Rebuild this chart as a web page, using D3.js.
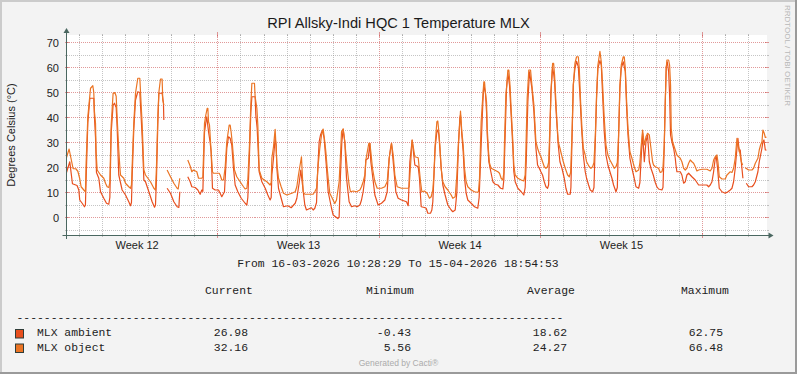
<!DOCTYPE html>
<html>
<head>
<meta charset="UTF-8">
<title>RPI Allsky-Indi HQC 1 Temperature MLX</title>
<script src="https://d3js.org/d3.v7.min.js"></script>
<style>
  body { margin: 0; padding: 0; background: #fff; }
  svg { display: block; }
  .sans { font-family: 'Liberation Sans', Arial, sans-serif; }
  .mono { font-family: 'Liberation Mono', 'Courier New', monospace; font-size: 11.4px; fill: #222; }
</style>
</head>
<body>
<svg width="797" height="374"></svg>
<script>
const startTime = Date.UTC(2026, 2, 16, 10, 28, 29);
const endTime = Date.UTC(2026, 3, 15, 18, 54, 53);

// [hours since start, degrees C]; null marks a gap in the data
const mlxAmbient = [
  [0,18],[3.4,22.3],[6.2,13.5],[11,12.8],[12.8,11],[13.8,7],[16.3,5.7],[18.7,4.3],[19.7,5],
  [20.4,15],[22.2,38],[24.3,47.7],[28.4,47.7],[29.1,40],[30.2,32],[31.2,18],[33.6,15.7],[35.4,10.3],[37.1,9],[38.8,7.7],[41.6,5.7],[44,5.3],
  [45.1,8],[46.5,34],[48.5,45],[49.9,45.7],[51.7,44],[52.7,36],[54.4,17],[57.9,11],[61.4,9],[64.8,6.3],[66.6,4.7],[67.6,6],
  [68.3,16],[70,35],[71.8,47],[74.2,50.3],[76.3,50],[77.7,40],[79,30],[80.5,15],[82.2,14.3],[85.7,10.3],[89.1,6.3],[91.6,4.1],[92.6,5],
  [93.6,15],[95,37],[96.1,49.7],[99.5,49.7],[100.9,45.7],[101.3,39],[102,null],
  [104.7,11.7],[108.2,9.7],[111.7,6.3],[115.1,4.3],[116.9,4],[117.9,10.3],[120,null],
  [126.2,16.3],[128.7,14.3],[130.4,12.3],[133.9,12],[136.7,11],[139.1,9.3],[140.8,11],[141.9,10.5],[143.6,34],[145,38],[146,40.3],[147.8,34.3],[149.5,30],[150.5,26.3],[151.9,11.7],[154.7,11],[158.2,11],[159.9,9.7],[161.6,8.3],[164.4,10.3],
  [166.8,27.7],[168.6,32.3],[170.3,31.7],[172,29],[173.8,19.7],[175.5,13],[178.3,10.3],[181.8,7.7],[185.9,5.7],[187.7,5],[188.7,8],[190.4,25],[191.8,42],[192.9,48.3],[196.3,48.3],[197,41],[198.4,35.7],[200.5,18.3],[203.3,14.3],[206.8,11.7],[209.5,9],[211.9,7],[213,8],
  [213.7,17],[215.4,23.7],[217.1,31.7],[218.2,29],[218.9,19.7],[220.6,11.7],[223.4,7.7],[225.8,4.3],[230.3,4.7],[233.8,3.9],[238,5.7],[239.7,7.7],[242.1,13.7],[243.8,19],[245.6,13],[248,5],[249.7,3],[254.9,3.9],[256.7,3],[258.4,3.7],
  [260.2,6],[261.2,17],[262.9,30.3],[264.3,33],[266.4,35],[268.1,31.7],[270.6,19.7],[272.3,10.3],[275.8,3.7],[277.5,1],[281,0],[282.4,-0.43],[283.7,0.3],[285.1,17],[286.5,30],[287.9,35.4],[289.6,30.3],[291.4,15.7],[294.1,6.3],[296.6,4.3],[300,4.7],[302.5,4.3],[305.3,5],[307,7],[308.7,10.3],
  [310.5,15.7],[311.5,23],[314,23.7],[315.7,29.7],[316.7,22.3],[318.4,17],[320.9,9],[324.3,5],[327.8,5.7],[331.3,7],[333.7,10.3],[335.8,23.7],[337.2,27.7],[338.2,29.7],[340.6,19.7],[342.7,10.3],[345.1,7.7],[348.6,7],[353.8,6.3],[355.6,4.7],
  [357.3,22.3],[359.7,31],[362.5,21],[366,20.3],[367.3,15.7],[369.1,4.3],[372.5,4],[374.3,3.7],[376,1.7],[378.8,1.7],[380.2,3],[381.2,6.3],[382.3,15.7],[383.6,27.7],[385.4,34.3],[386.4,35],[387.5,33],[388.5,27.7],[389.9,19.7],[391.6,13],[394,9],[396.8,5],[400.3,3],[402,2.3],[404.5,3],
  [406.2,10],[407.9,29],[409.3,39.7],[410,41],[411.4,33],[412.8,26.3],[414.2,15.7],[415.9,9.7],[417.6,7],[421.1,5.7],[424.6,4.3],[428,3.7],[429.4,8],[431.5,29],[433.3,46.3],[434.3,53],[436,49.7],[437.1,42.3],[437.8,33],[439.5,22.3],[441.2,19],[443.7,14.3],[446.1,13.3],[448.9,13],[451.7,11.7],[454.1,11.4],
  [455.1,15],[456.5,33],[457.9,51.7],[459.3,57.7],[461,53],[462.7,41],[464.5,27.7],[465.5,18.3],[466.9,14.3],[469.7,11.7],[473.2,10.3],[475.9,9],[477.3,12],[478.4,22.3],[480.1,46.3],[481.8,58.3],[484.3,51.7],[486.4,42.3],[488.5,27.7],
  [490.2,21],[492,19.7],[493.7,18.3],[495.4,17],[497.2,14.3],[498.9,12.3],[500.6,11.7],[501.7,13],[502.4,23.7],[504.1,50.3],[505.9,59.7],[506.9,57.7],[507.9,54.3],[509.3,43.7],[510.4,37],[511.7,29],[513.5,22.3],[515.6,19.7],[518,15.7],[519.7,11.7],[521.5,9.3],[524.2,9.3],
  [524.9,12],[526,30.3],[527.4,53],[529.1,59.7],[530.8,62.5],[532.6,60.3],[534.3,49],[536,35.7],[537.8,25],[539.8,18.3],[541.2,15.7],[543.3,13],[545,11],[547.5,10.3],[548.9,12],[550.3,30.3],[551.6,47.7],[553,59.7],[555.1,62.75],[556.5,61],[557.9,49],[559.6,34.3],[561.4,25],[563.4,21],[565.5,18.3],[567.6,15.7],[569.3,13],[571.8,10.3],
  [573.2,12],[574.5,31.7],[575.9,51.7],[577.3,59.7],[579.4,62.3],[581.5,58.3],[582.9,43.7],[584.3,33],[586.3,23.7],[588.4,19.7],[590.8,15.7],[592.6,12.3],[595.4,11.7],[596.7,14],[597.8,22.3],[599.5,33.7],[601.3,22.3],[603,30.3],[604.7,33],[606.5,22.3],[608.2,19.7],[610.6,17],[612.7,14],[614.4,12.3],[616.1,11.4],[619.6,11],
  [620.7,12],[622,27.7],[623.1,46.3],[624.1,60.3],[625.2,62.3],[626.6,58.3],[627.6,49],[628.6,33],[630,30.3],[631.8,27.7],[633.5,23.7],[634.2,21],[635.2,18.3],[638.7,18.3],[640.4,17],[642.2,13.7],[643.9,14.3],[645.6,17],[647.4,17.7],[649.1,17],[650.8,16.3],[654.3,15],[657.8,13],[666.4,13],[668.2,12.3],[669.9,13],
  [671.7,14.3],[673.4,18.3],[675.1,23.7],[676.2,24.3],[677.5,19.7],[679.3,11.7],[682.1,10.3],[685.5,9.7],[688.3,10.3],[690.7,11],[692.5,11.7],[694.2,14.3],[695.9,19.7],[697.7,27.7],[698.7,31.7],[700.1,26.3],[701.1,27],[702.2,22.3],[703.9,15.7],[705,null],
  [707.4,13.7],[709.8,12.3],[713.3,12.3],[715,13],[716.8,14.3],[719.5,18.3],[720.9,22.3],[722.3,25],[723.7,27.7],[724.7,30.3],[725.8,31],[727.2,27],[728.4,26.98]
];

const mlxObject = [
  [0,24],[2.7,27.4],[4.5,24],[6.9,19.5],[9.7,19.5],[11.8,18.5],[13.8,15.5],[15.2,12.3],[18,11],[19.7,10.3],
  [20.4,21.7],[22.2,40.3],[25,51.7],[27.4,52.7],[28.4,50],[29.1,42.3],[30.2,37.7],[30.8,26.3],[31.9,19],[35.4,17],[38.8,15.7],[40.6,13.7],[42.3,12.3],[44,12],
  [45.1,14],[46.5,37],[48.5,49.7],[50.3,50],[51.7,48.5],[52.7,40],[54.4,27],[55.5,20.3],[56.2,17],[59.6,15.7],[61.4,13.7],[64.8,12.3],[66.6,11.7],[67.6,13],
  [68.3,20.3],[70,37.7],[71.8,49.7],[74.2,55.7],[76.3,55.7],[77.7,45],[78.7,37.7],[80.5,19],[82.2,17],[87.4,14.3],[90.9,11.7],[92.6,11],
  [93.6,20],[95,40],[96.1,50],[97.8,55.4],[99.5,55.4],[100.2,47],[101.3,45],[102,null],
  [104.7,19],[108.2,16.3],[111.7,13.7],[115.1,11.7],[116.2,11.4],[117.9,15.7],[120,null],
  [126.2,23],[128.7,20.6],[130.4,18.3],[132.1,19],[135.6,18.3],[137.4,15.7],[140.8,15.7],[141.9,16.3],[143.6,37.7],[145,41],[146.4,43.7],[147.1,43.7],[147.8,38.3],[148.8,37],[150.5,26.3],[151.9,18.3],[153,17.7],[158.9,17.7],[159.9,17],[161.6,15],[163.4,15],
  [165.1,20],[166.8,30.3],[169.3,37],[170.3,37],[171.3,34.3],[172.7,29],[174.8,19],[177.2,16.3],[180.7,14.3],[184.2,12.3],[185.9,11.4],[187.7,11.7],[188.7,15],[190.4,29],[191.8,45],[192.9,53.7],[195.6,53.7],[196.3,48.3],[198.1,43.7],[199.1,37],[200.5,19],[203.3,15.7],[208.5,14.3],[211.9,13],[213,14],
  [213.7,23.7],[215.4,28.3],[217.1,35.3],[217.8,30.3],[218.9,21.7],[220.6,15.7],[223.4,12.3],[225.8,9.7],[229.3,9],[234.5,9.7],[238,10.3],[239.7,12.3],[241.4,17],[244.5,24.3],[246.3,10.3],[248,9.3],[256.7,9.3],[258.4,10.3],
  [260.2,11.7],[261.9,21],[263.6,27.7],[265.4,33],[267.1,35.4],[268.8,30.3],[269.9,26.3],[271.3,19.7],[272.3,15.7],[274,9.7],[275.8,8.3],[279.2,5.56],[281,7],[283.7,14.3],[285.1,25],[286.2,34.3],[287.9,35.4],[289.6,30.3],[292.1,19.7],[294.1,13],[295.5,10.3],[298.3,10.6],[301.8,10.3],[305.3,11],[307,12.3],[308.7,14.3],
  [310.5,17],[311.5,23],[314.6,29.7],[315.7,29.7],[316.7,26.3],[318.4,19.7],[320.9,14.3],[323.3,11.7],[327.8,11.7],[331.3,12.3],[333.7,14.3],[335.8,23.7],[338.2,29.7],[340,25],[341.7,17],[344.1,12.3],[348.6,11.7],[355.6,11.7],[356.6,12.3],
  [359.7,31],[362.5,24.3],[366,23.9],[368.4,14.3],[369.8,10.3],[372.5,10.6],[375.3,9.7],[377.7,7.7],[379.5,8.3],[381.2,11],[382.3,17],[383.6,29],[385.4,38.3],[386.4,38.6],[387.5,34.3],[388.5,29],[389.9,19.7],[391.6,14.3],[394,12.3],[396.8,11],[400.3,9],[402,7.7],[404.5,8.3],
  [406.2,17],[407.9,30.3],[409.3,38.3],[410,42.6],[411.4,34.3],[412.8,29],[414.2,19.7],[415.9,14.3],[417.6,12.3],[421.1,11],[424.6,10.3],[427.4,10.1],[428.7,10.3],[429.8,15.7],[431.5,38.3],[433.3,49],[434.3,54.3],[435,54.3],[436,49.7],[437.1,46.3],[437.8,35.7],[439.2,26.3],[440.2,21.7],[441.9,19.7],[445.4,19],[448.9,18.3],[450.6,17.7],[452.3,15.7],[454.1,15],
  [455.1,18],[455.8,30.3],[457.2,49],[458.2,53],[459.3,59],[460.3,59],[461,55.7],[461.7,51.7],[462.7,43.7],[464.5,30.3],[465.5,21],[466.9,17],[469.7,15.7],[473.2,15],[475.9,14.6],[477.3,17],[478,26.3],[479.4,47.7],[481.1,59],[482.9,59],[484.3,53],[486.4,45],[488.5,30.3],
  [490.2,27.7],[492,25.7],[493.7,24.3],[495.4,22.3],[497.2,20.3],[498.9,19.7],[500.6,20.3],[501.7,22],[502.4,29],[504.1,49],[505.2,58.3],[505.9,61.7],[506.9,61.7],[507.9,57],[509.3,46.3],[510.4,38.3],[511.7,30.3],[513.5,27.7],[515.2,25],[517,22.3],[519,19.7],[521.5,17],[523.2,16.3],
  [524.6,18],[526,33],[527.4,53],[529.1,61.7],[530.8,64.3],[532.6,64.3],[533.6,59.7],[535,46.3],[536.4,35.7],[537.8,27.7],[539.8,25],[541.2,22.3],[544,20.3],[545.7,19.7],[547.5,20.3],[548.9,22],[550.3,33],[551.6,49],[553,61],[555.1,66.48],[556.5,62.3],[557.9,53],[559.6,39.7],[561.4,29],[563.4,25],[565.5,23],[568.3,21],[570,19.7],[571.8,20.3],
  [573.2,22],[574.5,33],[575.9,53],[577.3,61],[579.4,64.3],[580.4,64.3],[581.5,59.7],[582.9,46.3],[584.3,35.7],[586.3,26.3],[588.4,23.7],[590.8,20.3],[592.6,18.3],[595.4,19],[596.7,22],[597.8,27.7],[599.5,35],[601.3,29],[603,32.3],[604.7,33.7],[606.5,33],[608.2,27.7],[609.9,22.3],[610.9,21],[612.7,20.3],[616.1,19.7],[617.9,18],[619.6,18.3],
  [620.7,20],[622,29],[623.1,46.3],[624.1,59.7],[624.8,63],[626.6,63],[627.6,61],[628.6,53],[629.3,35.7],[630.7,30.3],[631.8,29],[633.5,27],[635.2,25],[637,24.3],[638.7,23.7],[640.4,22.3],[642.2,19.7],[643.9,19],[645.6,19.7],[647.4,21.7],[649.1,23],[650.8,22.3],[652.6,21.7],[654.3,20.3],[656,18.6],[657.8,19],[661.2,19.3],[666.4,19.3],[669.9,18.6],
  [671.7,19.7],[673.4,23],[675.1,24.3],[676.9,25],[677.9,22.3],[679.3,16.3],[682.1,15.4],[685.5,15.4],[687.3,17],[690.7,18.3],[692.5,18],[694.2,19.7],[695.9,23.7],[697.7,31.7],[698.7,29],[700.1,27],[702.2,22.3],[703.6,21],[705,null],
  [706.3,19.9],[709.8,19],[713.3,19],[715,19.7],[716.8,21.7],[719.5,23.7],[720.9,27],[722.3,29],[723.7,30.3],[724.7,35],[726.1,33.7],[727.2,32],[728.4,32.16]
];

const seriesNames = ["MLX ambient", "MLX object"];
const statHeaders = ["Current", "Minimum", "Average", "Maximum"];
const statValues = [
  ["26.98", "-0.43", "18.62", "62.75"],
  ["32.16", "5.56", "24.27", "66.48"]
];
const yMajorTicks = [0, 10, 20, 30, 40, 50, 60, 70];
const yMinorTicks = [-5, 5, 15, 25, 35, 45, 55, 65];

const colors = ["#E84F1E", "#EB7424"];
const W = 797, H = 374;
const X0 = 66.5, X1 = 766.5, YT = 35, YB = 235;
const majorCol = "rgba(200,70,70,0.55)", minorCol = "rgba(140,140,140,0.5)", axisCol = "#4a6760";
const crisp = v => Math.round(v - 0.5) + 0.5;

const svg = d3.select("svg");
const x = d3.scaleUtc().domain([startTime, endTime]).range([X0, X1]);
const y = d3.scaleLinear().domain([-7, 73]).range([YB, YT]);

// background and 3d frame
svg.append("rect").attr("width", W).attr("height", H).attr("fill", "#f3f3f3");
svg.append("path").attr("d", `M0,0H${W}V2H2V${H}H0Z`).attr("fill", "#cbcbcb");
svg.append("path").attr("d", `M${W},${H}H0V${H - 2}H${W - 2}V0H${W}Z`).attr("fill", "#9a9a9a");
svg.append("rect").attr("x", 66).attr("y", YT).attr("width", 701).attr("height", YB - YT).attr("fill", "#fff");

const grid = svg.append("g").attr("shape-rendering", "crispEdges");

// vertical grid: days (minor) and mondays (major)
const mondays = d3.utcMonday.range(startTime, endTime);
const days = d3.utcDay.range(startTime, endTime).filter(d => d.getUTCDay() !== 1);
days.forEach(d => {
  const px = crisp(x(d));
  grid.append("line").attr("x1", px).attr("x2", px).attr("y1", YT).attr("y2", YB)
    .attr("stroke", minorCol).attr("stroke-dasharray", "1,1");
  grid.append("line").attr("x1", px).attr("x2", px).attr("y1", YB - 1).attr("y2", YB + 2).attr("stroke", minorCol);
  grid.append("line").attr("x1", px).attr("x2", px).attr("y1", YT - 1).attr("y2", YT + 1).attr("stroke", minorCol);
});
mondays.forEach(d => {
  const px = crisp(x(d));
  grid.append("line").attr("x1", px).attr("x2", px).attr("y1", YT).attr("y2", YB)
    .attr("stroke", majorCol).attr("stroke-dasharray", "1,1");
  grid.append("line").attr("x1", px).attr("x2", px).attr("y1", YB - 2).attr("y2", YB + 3).attr("stroke", majorCol);
  grid.append("line").attr("x1", px).attr("x2", px).attr("y1", YT - 3).attr("y2", YT + 2).attr("stroke", majorCol);
});

// horizontal grid
yMinorTicks.forEach(v => {
  const py = crisp(y(v));
  grid.append("line").attr("x1", X0).attr("x2", X1).attr("y1", py).attr("y2", py)
    .attr("stroke", minorCol).attr("stroke-dasharray", "1,1");
  grid.append("line").attr("x1", X0 - 2).attr("x2", X0).attr("y1", py).attr("y2", py).attr("stroke", minorCol);
  grid.append("line").attr("x1", X1).attr("x2", X1 + 2).attr("y1", py).attr("y2", py).attr("stroke", minorCol);
});
yMajorTicks.forEach(v => {
  const py = crisp(y(v));
  grid.append("line").attr("x1", X0).attr("x2", X1).attr("y1", py).attr("y2", py)
    .attr("stroke", majorCol).attr("stroke-dasharray", "1,1");
  grid.append("line").attr("x1", X0 - 2).attr("x2", X0 + 2).attr("y1", py).attr("y2", py).attr("stroke", majorCol);
  grid.append("line").attr("x1", X1 - 2).attr("x2", X1 + 2).attr("y1", py).attr("y2", py).attr("stroke", majorCol);
});

// y tick labels
svg.append("g").attr("class", "sans").attr("font-size", 11).attr("fill", "#222")
  .selectAll("text").data(yMajorTicks).join("text")
  .attr("x", 59).attr("y", d => y(d) + 4).attr("text-anchor", "end").text(d => d);

// week labels centred in each week
const weekFmt = d3.utcFormat("%V");
svg.append("g").attr("class", "sans").attr("font-size", 11).attr("fill", "#222")
  .selectAll("text")
  .data(d3.utcMonday.range(d3.utcMonday.floor(new Date(startTime)), endTime)
    .filter(m => +m + 3.5 * 864e5 > startTime && +m + 3.5 * 864e5 < endTime))
  .join("text")
  .attr("x", m => x(+m + 3.5 * 864e5)).attr("y", 248.5).attr("text-anchor", "middle")
  .text(m => "Week " + weekFmt(m));

// data lines
const line = d3.line()
  .defined(d => d[1] !== null)
  .x(d => x(startTime + d[0] * 3600e3))
  .y(d => y(d[1]));
[mlxAmbient, mlxObject].forEach((s, i) => {
  svg.append("path").datum(s).attr("d", line)
    .attr("fill", "none").attr("stroke", colors[i]).attr("stroke-width", 1.2)
    .attr("stroke-linejoin", "round");
});

// axes and arrows
svg.append("line").attr("x1", X0 - 4).attr("x2", X1 + 4).attr("y1", YB + 0.5).attr("y2", YB + 0.5).attr("stroke", axisCol);
svg.append("line").attr("x1", X0).attr("x2", X0).attr("y1", YB + 4).attr("y2", YT - 4).attr("stroke", axisCol);
svg.append("path").attr("d", `M${X1 + 2},${YB - 2.5}L${X1 + 2},${YB + 3.5}L${X1 + 7},${YB + 0.5}Z`).attr("fill", axisCol);
svg.append("path").attr("d", `M${X0 - 3},${YT - 2}L${X0 + 3},${YT - 2}L${X0},${YT - 7}Z`).attr("fill", axisCol);

// title and axis title
svg.append("text").attr("class", "sans").attr("x", 398.5).attr("y", 28)
  .attr("text-anchor", "middle").attr("font-size", 14.6).attr("fill", "#1a1a1a")
  .text("RPI Allsky-Indi HQC 1 Temperature MLX");
svg.append("text").attr("class", "sans").attr("transform", "translate(15,135) rotate(-90)")
  .attr("text-anchor", "middle").attr("font-size", 11).attr("fill", "#222")
  .text("Degrees Celsius (°C)");

// watermark
svg.append("text").attr("class", "sans").attr("transform", "translate(784.5,5) rotate(90)")
  .attr("font-size", 8).attr("fill", "#b8b8b8").text("RRDTOOL / TOBI OETIKER");

// legend
const fmtDate = d3.utcFormat("%d-%m-%Y %H:%M:%S");
svg.append("text").attr("class", "mono").attr("x", 398).attr("y", 267).attr("text-anchor", "middle")
  .text("From " + fmtDate(new Date(startTime)) + " To " + fmtDate(new Date(endTime)));

const headerX = [205, 366, 527, 681];
const valueX = [248, 411, 567, 723];
statHeaders.forEach((h, i) => {
  svg.append("text").attr("class", "mono").attr("x", headerX[i]).attr("y", 294).text(h);
});
svg.append("text").attr("class", "mono").attr("x", 16.5).attr("y", 321).text("-".repeat(80));

seriesNames.forEach((name, r) => {
  const by = 336 + r * 14.5;
  svg.append("rect").attr("x", 15.5).attr("y", by - 6.5).attr("width", 8).attr("height", 8.5)
    .attr("fill", colors[r]).attr("stroke", "#2f3d39").attr("stroke-width", 1);
  svg.append("text").attr("class", "mono").attr("x", 37).attr("y", by).text(name);
  statValues[r].forEach((v, i) => {
    svg.append("text").attr("class", "mono").attr("x", valueX[i]).attr("y", by)
      .attr("text-anchor", "end").text(v);
  });
});

svg.append("text").attr("class", "sans").attr("x", 398.5).attr("y", 366)
  .attr("text-anchor", "middle").attr("font-size", 8.5).attr("fill", "#ababab")
  .text("Generated by Cacti®");
</script>
</body>
</html>
